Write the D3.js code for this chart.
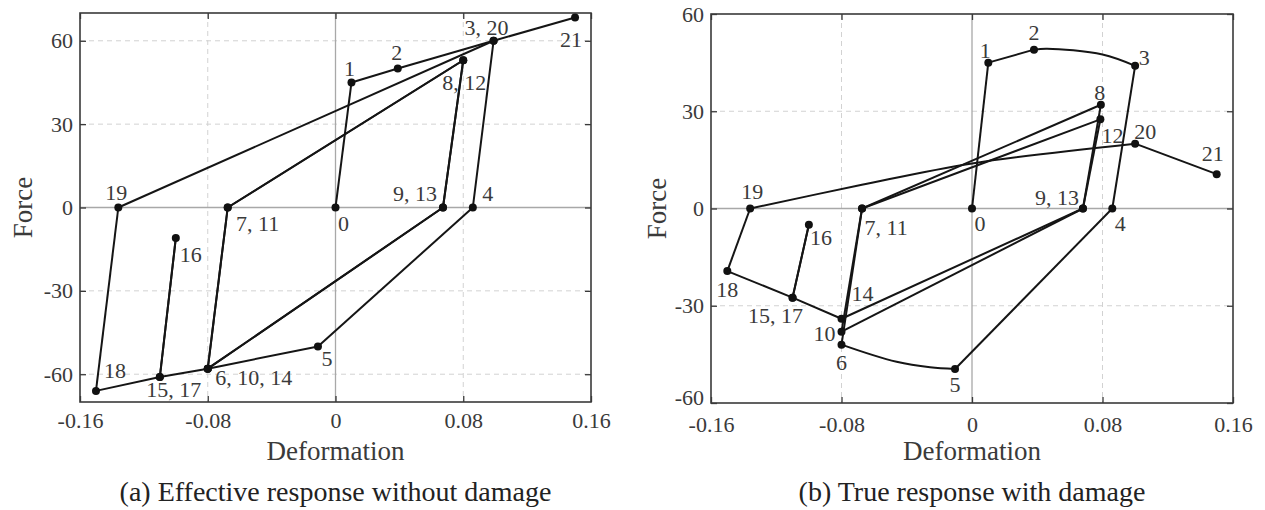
<!DOCTYPE html>
<html>
<head>
<meta charset="utf-8">
<script src="https://cdn.jsdelivr.net/npm/d3@7"></script>
<style>
  body { margin: 0; background: #fff; }
  svg { display: block; font-family: "Liberation Serif", "Times New Roman", serif; }
</style>
</head>
<body>
<svg id="chart" width="1265" height="510"></svg>
<script>
// point numbers 0..21 (loading path order)
const pointIds = d3.range(22);

// (a) effective response without damage
const defA = [0, 0.01, 0.039, 0.099, 0.086, -0.011, -0.08, -0.0675, 0.08, 0.0673, -0.08,
              -0.0675, 0.08, 0.0673, -0.08, -0.11, -0.1, -0.11, -0.15, -0.136, 0.099, 0.15];
const forceA = [0, 45, 50, 60, 0, -50, -58, 0, 53, 0, -58,
                0, 53, 0, -58, -61, -11, -61, -66, 0, 60, 68.4];

// (b) true response with damage
const defB = [0, 0.01, 0.038, 0.1, 0.086, -0.0104, -0.08, -0.0674, 0.079, 0.068, -0.08,
              -0.0674, 0.0787, 0.068, -0.08, -0.11, -0.1, -0.11, -0.15, -0.136, 0.1, 0.15];
const forceB = [0, 45, 49, 44, 0, -49.5, -42, 0, 32, 0, -38,
                0, 27.5, 0, -34, -27.5, -5, -27.5, -19.3, 0, 20, 10.6];

// extra points read along the curved branches of (b), keyed by the segment start
const curvesB = {
    2: [[0.046, 49.3], [0.08, 47.5]],
    5: [[-0.0257, -49.0], [-0.0462, -47.3]],
    19: [[-0.0675, 7.3], [0, 13.9]]
};

// point labels
const labelsA = [[0, "0"], [1, "1"], [2, "2"], [3, "3, 20"], [21, "21"], [8, "8, 12"],
                 [9, "9, 13"], [4, "4"], [5, "5"], [6, "6, 10, 14"], [7, "7, 11"],
                 [15, "15, 17"], [16, "16"], [18, "18"], [19, "19"]];
const labelsB = [[0, "0"], [1, "1"], [2, "2"], [3, "3"], [8, "8"], [12, "12"], [20, "20"],
                 [21, "21"], [9, "9, 13"], [4, "4"], [5, "5"], [6, "6"], [10, "10"],
                 [14, "14"], [15, "15, 17"], [16, "16"], [18, "18"], [19, "19"], [7, "7, 11"]];

const xTicks = [-0.16, -0.08, 0, 0.08, 0.16];
const xTickLabels = ["-0.16", "-0.08", "0", "0.08", "0.16"];
const yTicks = [-60, -30, 0, 30, 60];
const yTickLabels = ["-60", "-30", "0", "30", "60"];

// label offsets in px (layout only)
const offA = {0: [8, 16], 1: [-2, -14], 2: [-1, -16], 3: [-7, -13], 21: [-4, 22], 8: [1, 22],
              9: [-28, -14], 4: [15, -14], 5: [9, 12], 6: [46, 9], 7: [30, 16],
              15: [14, 13], 16: [15, 16], 18: [19, -20], 19: [-2, -15]};
const offB = {0: [8, 15], 1: [-3, -12], 2: [0, -17], 3: [9, -8], 8: [-1, -12], 12: [12, 16],
              20: [10, -12], 21: [-4, -21], 9: [-26, -11], 4: [8, 15], 5: [0, 16], 6: [0, 18],
              10: [-17, 2], 14: [21, -25], 15: [-17, 18], 16: [12, 13], 18: [0, 18], 19: [2, -17],
              7: [24, 19]};

const svg = d3.select("#chart");

function drawPanel(opt) {
    const x = d3.scaleLinear().domain([-0.16, 0.16]).range([opt.x0, opt.x1]);
    const y = d3.scaleLinear().domain(opt.yDomain).range([opt.y1, opt.y0]);
    const g = svg.append("g");

    // grid
    g.selectAll(".gx").data(xTicks.filter(d => d !== 0 && Math.abs(d) < 0.16)).join("line")
        .attr("x1", d => x(d)).attr("x2", d => x(d)).attr("y1", opt.y0).attr("y2", opt.y1)
        .attr("stroke", "#d2d2d2").attr("stroke-dasharray", "5,4").attr("stroke-width", 1);
    g.selectAll(".gy").data(yTicks.filter(d => d !== 0 && y(d) > opt.y0 + 1 && y(d) < opt.y1 - 1)).join("line")
        .attr("x1", opt.x0).attr("x2", opt.x1).attr("y1", d => y(d)).attr("y2", d => y(d))
        .attr("stroke", "#d2d2d2").attr("stroke-dasharray", "5,4").attr("stroke-width", 1);
    g.append("line").attr("x1", x(0)).attr("x2", x(0)).attr("y1", opt.y0).attr("y2", opt.y1)
        .attr("stroke", "#a8a8a8").attr("stroke-width", 1.3);
    g.append("line").attr("x1", opt.x0).attr("x2", opt.x1).attr("y1", y(0)).attr("y2", y(0))
        .attr("stroke", "#a8a8a8").attr("stroke-width", 1.3);

    // axes: ticks inside on all four sides
    const fmtX = (d, i) => xTickLabels[i];
    const fmtY = (d, i) => yTickLabels[i];
    const bottom = g.append("g").attr("transform", `translate(0,${opt.y1})`)
        .call(d3.axisBottom(x).tickValues(xTicks).tickFormat(fmtX).tickSize(-6).tickPadding(opt.xPad));
    const left = g.append("g").attr("transform", `translate(${opt.x0},0)`)
        .call(d3.axisLeft(y).tickValues(yTicks).tickFormat(fmtY).tickSize(-6).tickPadding(7));
    const top = g.append("g").attr("transform", `translate(0,${opt.y0})`)
        .call(d3.axisTop(x).tickValues(xTicks).tickFormat("").tickSize(-6));
    const right = g.append("g").attr("transform", `translate(${opt.x1},0)`)
        .call(d3.axisRight(y).tickValues(yTicks).tickFormat("").tickSize(-6));
    [bottom, left, top, right].forEach(a => {
        a.select(".domain").remove();
        a.selectAll("line").attr("stroke", "#3a3a3a").attr("stroke-width", 1.3);
        a.selectAll("text").attr("font-size", 22).attr("fill", "#3a3a3a")
            .attr("font-family", "Liberation Serif");
    });
    // lowest y label sits on the corner in (b); nudge it up a little
    left.selectAll(".tick text").filter(d => y(d) > opt.y1 - 2).attr("dy", opt.cornerDy);
    g.append("rect").attr("x", opt.x0).attr("y", opt.y0)
        .attr("width", opt.x1 - opt.x0).attr("height", opt.y1 - opt.y0)
        .attr("fill", "none").attr("stroke", "#3a3a3a").attr("stroke-width", 1.6);

    // response path, one segment at a time
    const line = d3.line().x(d => x(d[0])).y(d => y(d[1])).curve(d3.curveCatmullRom.alpha(0.5));
    for (let i = 0; i < pointIds.length - 1; i++) {
        const mids = opt.curves[i] || [];
        const pts = [[opt.def[i], opt.force[i]], ...mids, [opt.def[i + 1], opt.force[i + 1]]];
        g.append("path").attr("d", line(pts))
            .attr("fill", "none").attr("stroke", "#151515").attr("stroke-width", 2)
            .attr("stroke-linejoin", "round");
    }
    g.selectAll(".pt").data(pointIds).join("circle")
        .attr("cx", i => x(opt.def[i])).attr("cy", i => y(opt.force[i]))
        .attr("r", 4).attr("fill", "#111");

    // point labels
    g.selectAll(".lbl").data(opt.labels).join("text")
        .attr("x", d => x(opt.def[d[0]]) + opt.offsets[d[0]][0])
        .attr("y", d => y(opt.force[d[0]]) + opt.offsets[d[0]][1])
        .attr("text-anchor", "middle").attr("dominant-baseline", "central")
        .attr("font-size", 22).attr("fill", "#3a3a3a")
        .text(d => d[1]);

    // titles
    g.append("text").attr("x", x(0)).attr("y", 460).attr("text-anchor", "middle")
        .attr("font-size", 27).attr("fill", "#3a3a3a").text("Deformation");
    g.append("text").attr("transform", `translate(${opt.yTitleX},${(opt.y0 + opt.y1) / 2}) rotate(-90)`)
        .attr("text-anchor", "middle").attr("dominant-baseline", "central")
        .attr("font-size", 27).attr("fill", "#3a3a3a").text("Force");
    g.append("text").attr("x", x(0)).attr("y", 501).attr("text-anchor", "middle")
        .attr("font-size", 28).attr("fill", "#222").text(opt.caption);
}

drawPanel({
    x0: 80, x1: 591, y0: 13, y1: 402, yDomain: [-70, 70], xPad: 10, cornerDy: "0.32em",
    def: defA, force: forceA, curves: {}, labels: labelsA, offsets: offA,
    yTitleX: 23, caption: "(a) Effective response without damage"
});
drawPanel({
    x0: 711, x1: 1233, y0: 14, y1: 403, yDomain: [-60, 60], xPad: 13, cornerDy: "0.05em",
    def: defB, force: forceB, curves: curvesB, labels: labelsB, offsets: offB,
    yTitleX: 657, caption: "(b) True response with damage"
});
</script>
</body>
</html>
